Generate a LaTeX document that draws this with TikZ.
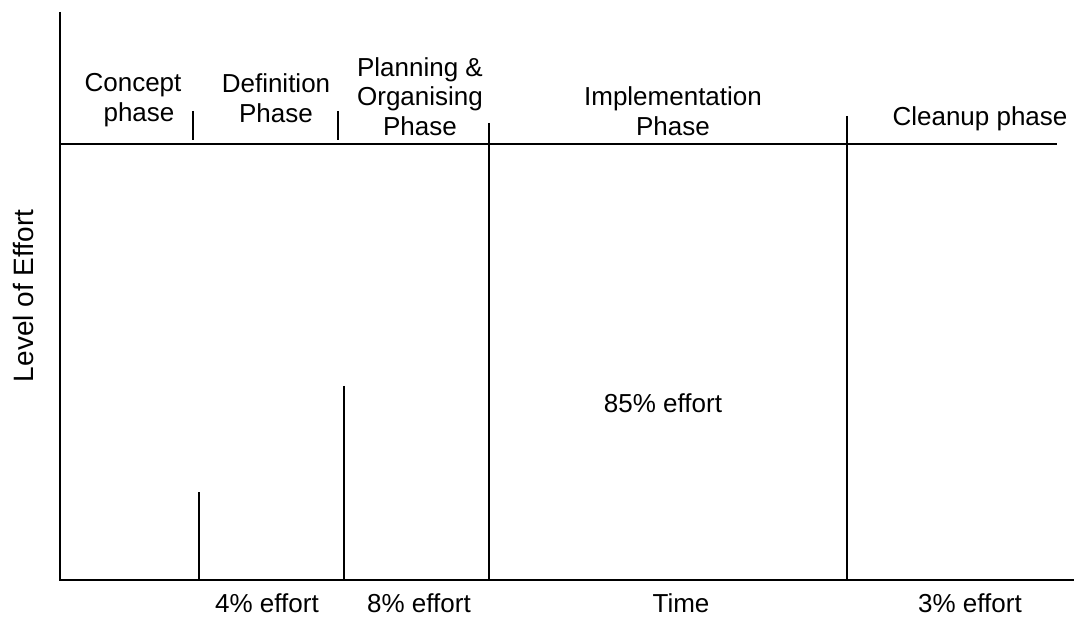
\documentclass[tikz,border=0pt]{standalone}
\usepackage{fontspec}
\setmainfont{Liberation Sans}
\begin{document}
\begin{tikzpicture}[x=1pt,y=-1pt,
  ln/.style={line width=2.6pt,line cap=butt},
  thin/.style={line width=2.2pt},
  lbl/.style={font=\fontsize{26}{30}\selectfont,align=center,inner sep=0pt,anchor=base}]
\useasboundingbox (0,0) rectangle (1074,617);
% axes
\draw[ln] (60,12) -- (60,580) -- (1074,580);
\draw[ln] (60,144) -- (1057,144);
% phase separators
\draw[thin] (193,111) -- (193,140);
\draw[thin] (338,111) -- (338,140);
\draw[thin] (489,123) -- (489,579);
\draw[thin] (847,116) -- (847,579);
% effort bars
\draw[thin] (199,492) -- (199,579);
\draw[thin] (344,386) -- (344,579);
% top labels
\node[lbl] (c1) at (133,92) {Concept};
\node[lbl] (c2) at (139,122) {phase};
\node[lbl] (d1) at (276,93) {Definition};
\node[lbl] (d2) at (276,123) {Phase};
\node[lbl] (p1) at (420,77) {Planning \&};
\node[lbl] (p2) at (420,106) {Organising};
\node[lbl] (p3) at (420,136) {Phase};
\node[lbl] (i1) at (673,106) {Implementation};
\node[lbl] (i2) at (673,136) {Phase};
\node[lbl] (cl) at (980,126) {Cleanup phase};
% other labels
\node[lbl,font=\fontsize{28}{32}\selectfont,rotate=90] (y) at (34,296) {Level of Effort};
\node[lbl] (e85) at (663,413) {85\% effort};
\node[lbl] (e4) at (267,612) {4\% effort};
\node[lbl] (e8) at (419,612) {8\% effort};
\node[lbl] (t) at (681,612) {Time};
\node[lbl] (e3) at (970,612) {3\% effort};
\end{tikzpicture}
\end{document}
